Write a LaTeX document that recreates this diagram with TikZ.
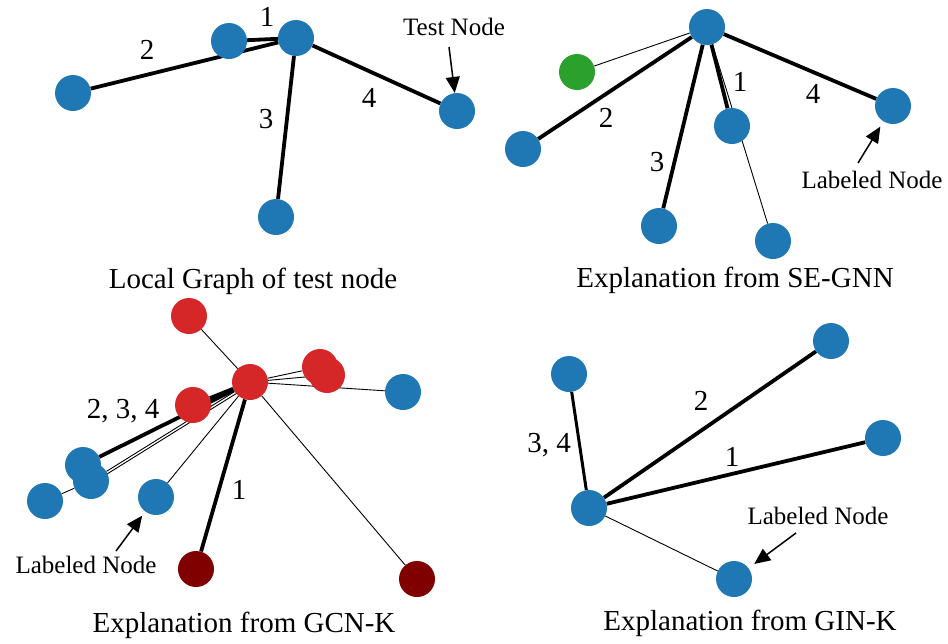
\documentclass[tikz,border=0pt]{standalone}
\usepackage{fontspec}
\setmainfont{Liberation Serif}
\usetikzlibrary{arrows.meta,backgrounds}
\definecolor{nodeblue}{HTML}{1F77B4}
\definecolor{nodegreen}{HTML}{2CA02C}
\definecolor{nodered}{HTML}{D62728}
\definecolor{nodedark}{HTML}{800000}

\begin{document}
\begin{tikzpicture}[
    x=1pt, y=-1pt,
    vertex/.style={circle, fill=nodeblue, minimum size=36pt, inner sep=0pt},
    hot/.style={vertex, fill=nodered},
    cold/.style={vertex, fill=nodedark},
    heavy/.style={line width=3.8pt},
    light/.style={line width=0.9pt},
    edgenum/.style={font=\fontsize{29}{30}\selectfont, anchor=base, inner sep=0pt},
    caption/.style={font=\fontsize{29}{30}\selectfont, anchor=base, inner sep=0pt},
    note/.style={font=\fontsize{25}{26}\selectfont, anchor=base, inner sep=0pt},
    pointer/.style={-{Triangle[length=16pt, width=14pt]}, line width=1.5pt}
]
\useasboundingbox (0,0) rectangle (948,643);

% Panel 1: local graph of the test node
\node[vertex] (p1) at (73,93) {};
\node[vertex] (p2) at (229,41) {};
\node[vertex] (p3) at (296,38) {};
\node[vertex] (p4) at (457,111) {};
\node[vertex] (p5) at (276,217) {};
\begin{scope}[on background layer]
\draw[heavy] (p1) -- (p3);
\draw[heavy] (p2) -- (p3);
\draw[heavy] (p3) -- (p5);
\draw[heavy] (p3) -- (p4);
\end{scope}
\node[edgenum] at (267,26) {1};
\node[edgenum] at (147,59) {2};
\node[edgenum] at (266,128) {3};
\node[edgenum] at (369,107) {4};
\node[note] (testlbl) at (454,35) {Test Node};
\coordinate (testtail) at (449,47);
\draw[pointer] (testtail) -- (p4);
\node[caption] (cap1) at (253,288) {Local Graph of test node};

% Panel 2: SE-GNN
\node[vertex] (s0) at (707,27) {};
\node[vertex, fill=nodegreen] (s1) at (577,72) {};
\node[vertex] (s2) at (523,149) {};
\node[vertex] (s3) at (659,226) {};
\node[vertex] (s4) at (732,126) {};
\node[vertex] (s5) at (773,241) {};
\node[vertex] (s6) at (893,106) {};
\begin{scope}[on background layer]
\draw[light] (s0) -- (s1);
\draw[light] (s0) -- (s5);
\foreach \t in {s2, s3, s4, s6}
    \draw[heavy] (s0) -- (\t);
\end{scope}
\node[edgenum] at (740,91) {1};
\node[edgenum] at (606,127) {2};
\node[edgenum] at (657,171) {3};
\node[edgenum] at (813,103) {4};
\node[note] (seglbl) at (872,188) {Labeled Node};
\coordinate (segtail) at (858,163);
\draw[pointer, shorten >=6pt] (segtail) -- (s6);
\node[caption] (cap2) at (735,287) {Explanation from SE-GNN};

% Panel 3: GCN-K
\node[hot] (g1) at (189,316) {};
\node[hot] (g2) at (320,367) {};
\node[hot] (g3) at (327,375) {};
\node[vertex] (g4) at (403,392) {};
\node[vertex] (g6) at (83,465) {};
\node[vertex] (g7) at (91,481) {};
\node[vertex] (g8) at (45,501) {};
\node[vertex] (g9) at (156,497) {};
\node[cold] (g10) at (196,569) {};
\node[cold] (g11) at (417,579) {};
\node[hot] (g5) at (193,405) {};
\node[hot] (g0) at (250,382) {};
\begin{scope}[on background layer]
\foreach \t in {g1, g2, g3, g4, g9, g11}
    \draw[light] (g0) -- (\t);
\draw[heavy] (g0) -- (g5);
\draw[heavy] (g0) -- (g6);
\draw[light] (g0) -- (g7);
\draw[light] ([yshift=-3pt]g0.center) -- ([yshift=-3pt]g7.center);
\draw[light] (g7) -- (g8);
\draw[heavy] (g0) -- (g10);
\end{scope}
\node[edgenum] at (123,418) {2, 3, 4};
\node[edgenum] at (239,499) {1};
\node[note] (gcnlbl) at (86,573) {Labeled Node};
\coordinate (gcntail) at (116,551);
\draw[pointer, shorten >=5pt] (gcntail) -- (g9);
\node[caption] (cap3) at (244,632) {Explanation from GCN-K};

% Panel 4: GIN-K
\node[vertex] (k0) at (589,508) {};
\node[vertex] (k1) at (569,374) {};
\node[vertex] (k2) at (831,341) {};
\node[vertex] (k3) at (883,438) {};
\node[vertex] (k4) at (734,579) {};
\begin{scope}[on background layer]
\draw[line width=3pt] (k0) -- (k1);
\draw[heavy] (k0) -- (k2);
\draw[heavy] (k0) -- (k3);
\draw[light] (k0) -- (k4);
\end{scope}
\node[edgenum] at (701,410) {2};
\node[edgenum] at (732,466) {1};
\node[edgenum] at (549,452) {3, 4};
\node[note] (ginlbl) at (818,524) {Labeled Node};
\coordinate (gintail) at (796,533);
\draw[pointer, shorten >=7pt] (gintail) -- (k4);
\node[caption] (cap4) at (750,630) {Explanation from GIN-K};

\end{tikzpicture}
\end{document}
